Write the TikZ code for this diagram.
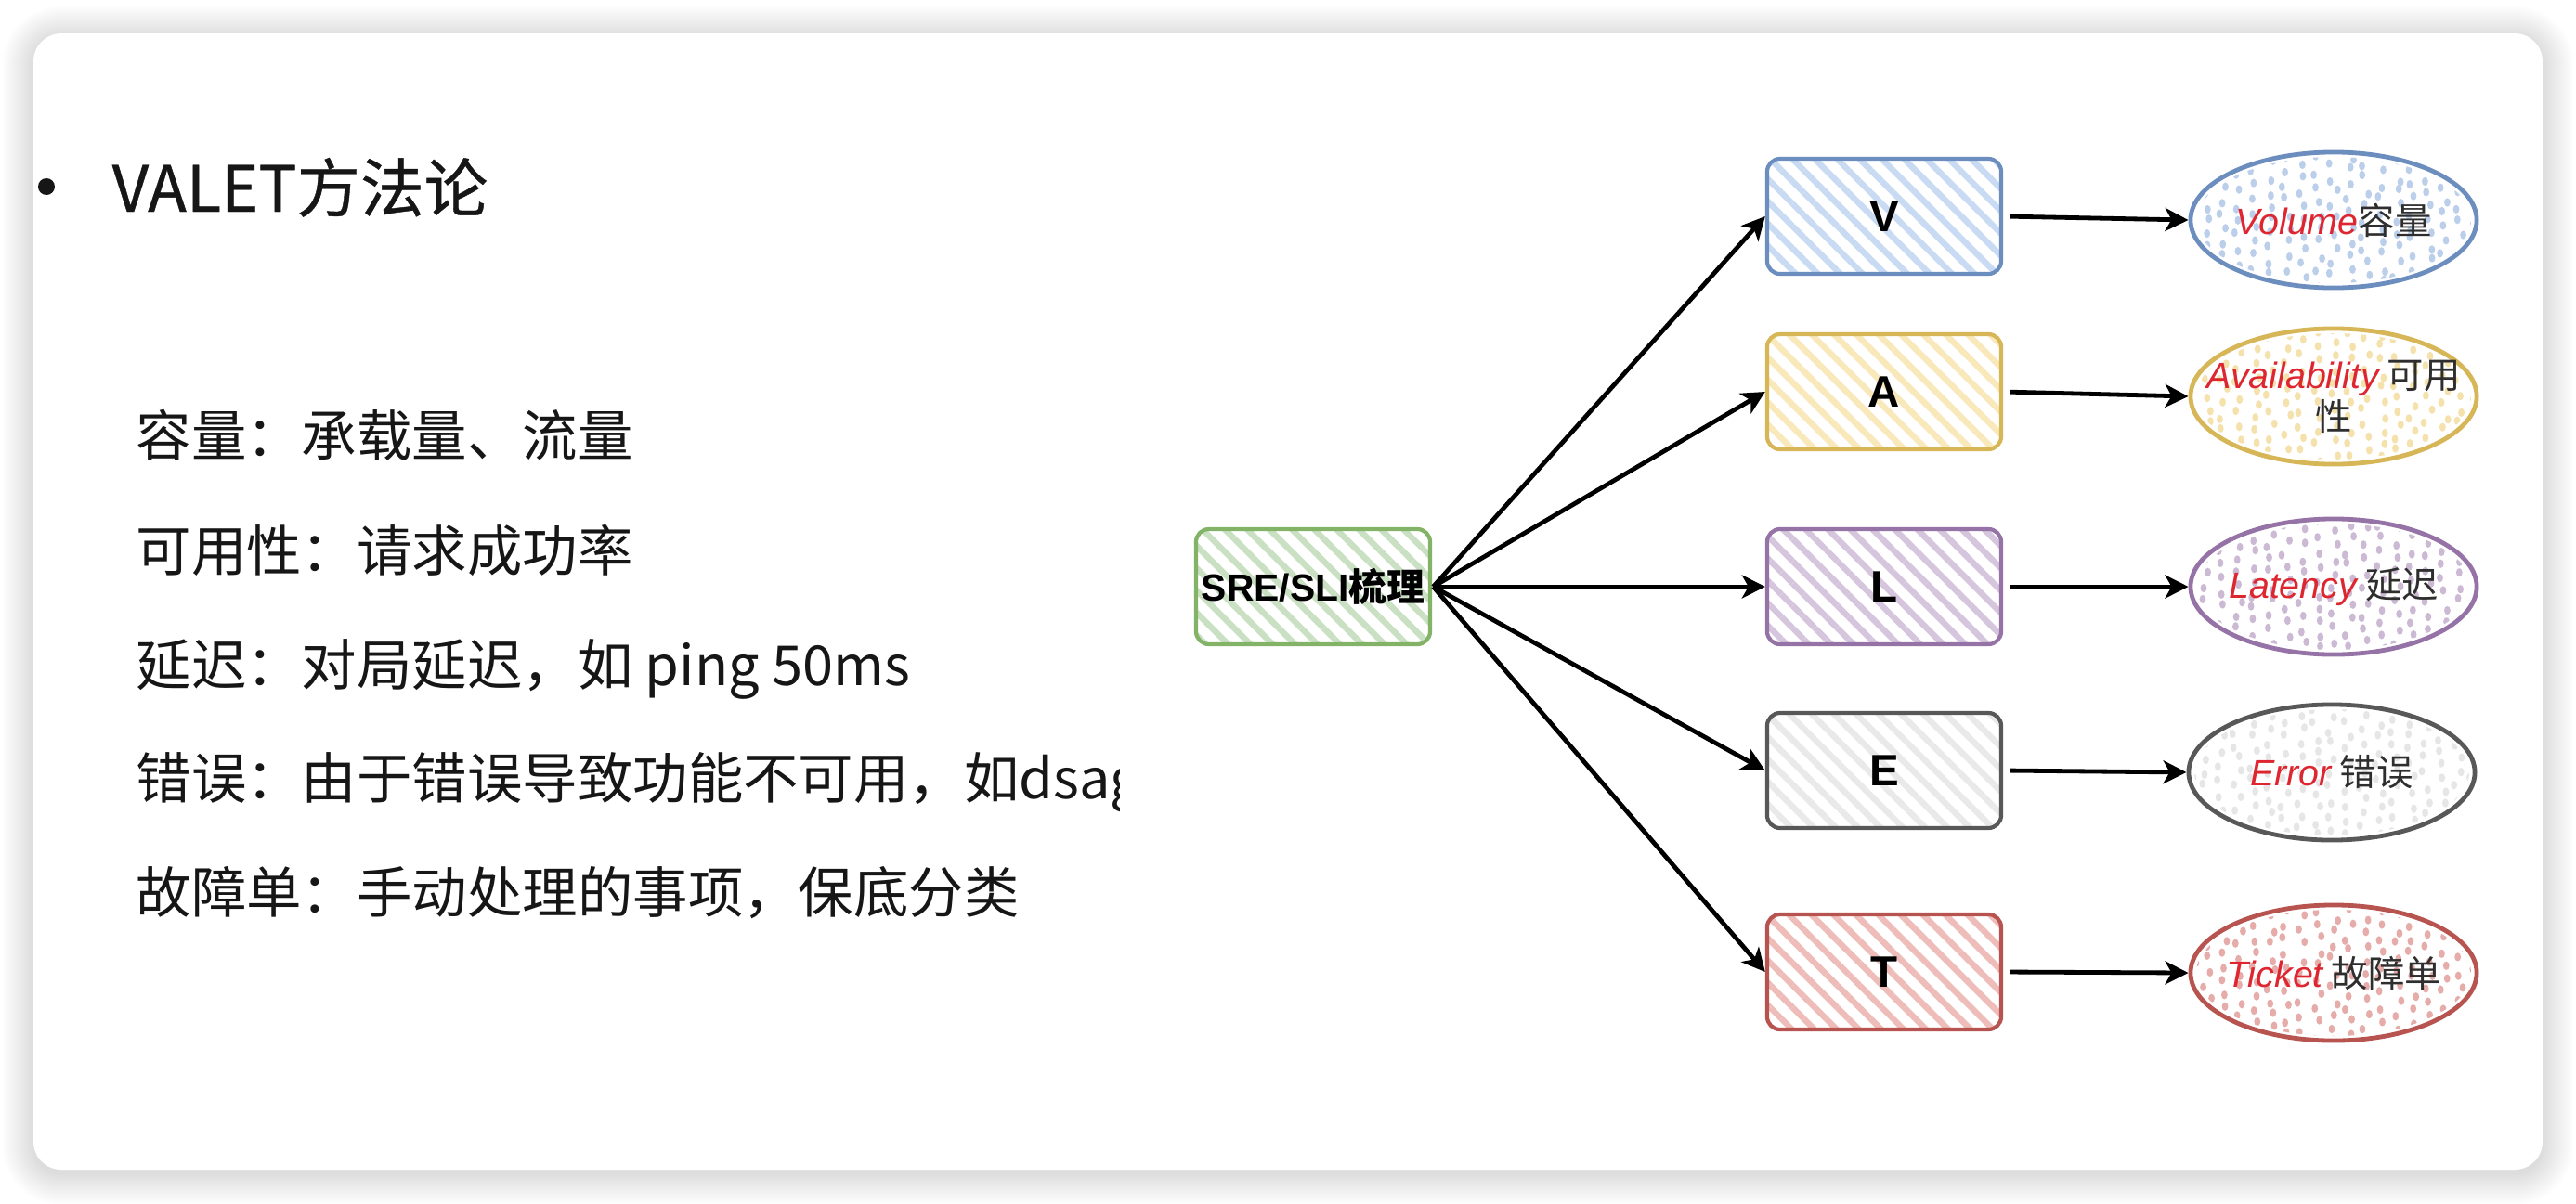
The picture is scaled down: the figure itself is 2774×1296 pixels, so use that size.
\documentclass[tikz,border=0pt]{standalone}
\usepackage{fontspec}
\setmainfont{Noto Sans CJK SC}
\newfontfamily\cjk{Noto Sans CJK SC}
\newfontfamily\titlefont[FakeBold=0.6]{Noto Sans CJK SC}
\newfontfamily\lat{Liberation Sans}
\usetikzlibrary{arrows.meta,shapes.geometric,patterns.meta}

\definecolor{gF}{HTML}{D5E8D4}\definecolor{gS}{HTML}{82B366}
\definecolor{bF}{HTML}{DAE8FC}\definecolor{bS}{HTML}{6C8EBF}
\definecolor{yF}{HTML}{FFF2CC}\definecolor{yS}{HTML}{D6B656}
\definecolor{pF}{HTML}{E1D5E7}\definecolor{pS}{HTML}{9673A6}
\definecolor{eF}{HTML}{F2F2F2}\definecolor{eS}{HTML}{585858}
\definecolor{rF}{HTML}{F8CECC}\definecolor{rS}{HTML}{B85450}
\definecolor{redtxt}{RGB}{222,38,48}
\definecolor{txt}{HTML}{161616}
\definecolor{cn}{HTML}{2E2E2E}

\tikzset{
  hbox/.style={draw=#1S, line width=0.042cm, rounded corners=0.14cm,
    minimum width=2.52cm, minimum height=1.24cm, inner sep=0pt,
    pattern={Lines[angle=-45,distance=0.17cm,line width=0.065cm]},
    pattern color=#1F!85!#1S, text=black,
    font=\lat\bfseries\fontsize{13.5}{15}\selectfont},
  oval/.style={ellipse, draw=#1S, line width=0.048cm, minimum width=3.08cm,
    minimum height=1.46cm, inner sep=0pt},
  ovaltext/.style={inner sep=0pt, align=center, text=cn,
    font=\fontsize{11.2}{12.8}\selectfont},
  arr/.style={-{Stealth[length=0.25cm,width=0.25cm,inset=0.07cm]},
    line width=0.048cm, black},
  body/.style={anchor=base west, inner sep=0pt, text=txt,
    font=\fontsize{16.9}{20}\selectfont},
}
\newcommand\en[1]{{\lat\itshape\color{redtxt}#1}}
\newcommand\speck[2]{%
  \begin{scope}
    \clip (#1) ellipse [x radius=148, y radius=68];
    \foreach \i in {-9,...,9}{\foreach \j in {-5,...,5}{
      \pgfmathsetmacro\dx{\i*17+rand*5}
      \pgfmathsetmacro\dy{\j*15+rand*4+mod(\i,2)*7}
      \fill[#2] (#1) ++(\dx,\dy) ellipse [x radius=3.4, y radius=4.6];
    }}
  \end{scope}}

\begin{document}
\begin{tikzpicture}[x=0.01cm,y=-0.01cm]
\pgfmathsetseed{7}
\useasboundingbox (0,0) rectangle (2774,1296);
\fill[white] (0,0) rectangle (2774,1296);
% card shadow
\foreach \k in {1,...,34}{
  \pgfmathsetmacro\rr{0.30+0.01*\k}
  \fill[black,opacity=0.0055,rounded corners=\rr cm]
    ({36-\k},{36-\k+4}) rectangle ({2738+\k},{1260+\k+4});
}
\fill[white,rounded corners=0.3cm] (36,36) rectangle (2738,1260);

% left text
\fill[txt] (50,201) circle [radius=9];
\node[anchor=base west, inner sep=0pt, text=txt, font=\titlefont\fontsize{19.5}{24}\selectfont]
  (title) at (120,228) {VALET方法论};
\node[body] (l1) at (146,491) {容量：承载量、流量};
\node[body] (l2) at (146,615) {可用性：请求成功率};
\node[body] (l3) at (146,738) {延迟：对局延迟，如 ping 50ms};
\begin{scope}
  \clip (0,0) rectangle (1205,1296);
  \node[body] (l4) at (146,860) {错误：由于错误导致功能不可用，如dsag};
\end{scope}
\node[body] (l5) at (146,983) {故障单：手动处理的事项，保底分类};

% ellipse centres and speckles
\coordinate (cV) at (2513,237);
\coordinate (cA) at (2513,427);
\coordinate (cL) at (2513,632);
\coordinate (cE) at (2511,832);
\coordinate (cT) at (2513,1048);
\speck{cV}{bF!72!bS}
\speck{cA}{yF!72!yS}
\speck{cL}{pF!72!pS}
\speck{cE}{eF!92!eS}
\speck{cT}{rF!72!rS}

% boxes
\node[hbox=g, font=\lat\bfseries\fontsize{11.6}{13}\selectfont] (sre) at (1414,632)
  {SRE/SLI{\cjk\bfseries 梳理}};
\node[hbox=b] (V) at (2029,233) {V};
\node[hbox=y] (A) at (2029,422) {A};
\node[hbox=p] (L) at (2029,632) {L};
\node[hbox=e, pattern color=eF!94!eS] (E) at (2029,830) {E};
\node[hbox=r] (T) at (2029,1047) {T};

% ellipses
\node[oval=b] (eV) at (cV) {};
\node[oval=y] (eA) at (cA) {};
\node[oval=p] (eL) at (cL) {};
\node[oval=e] (eE) at (cE) {};
\node[oval=r] (eT) at (cT) {};
\node[ovaltext] (tV) at (cV) {\en{Volume}容量};
\node[ovaltext] (tA) at (cA) {\en{Availability} 可用\\性};
\node[ovaltext] (tL) at (cL) {\en{Latency} 延迟};
\node[ovaltext] (tE) at (cE) {\en{Error} 错误};
\node[ovaltext] (tT) at (cT) {\en{Ticket} 故障单};

% connectors
\foreach \b in {V,A,L,E,T}{
  \draw[arr] (sre.east) -- (\b.west);
  \draw[arr, shorten <=0.07cm] (\b.east) -- (e\b.west);
}
\end{tikzpicture}
\end{document}
